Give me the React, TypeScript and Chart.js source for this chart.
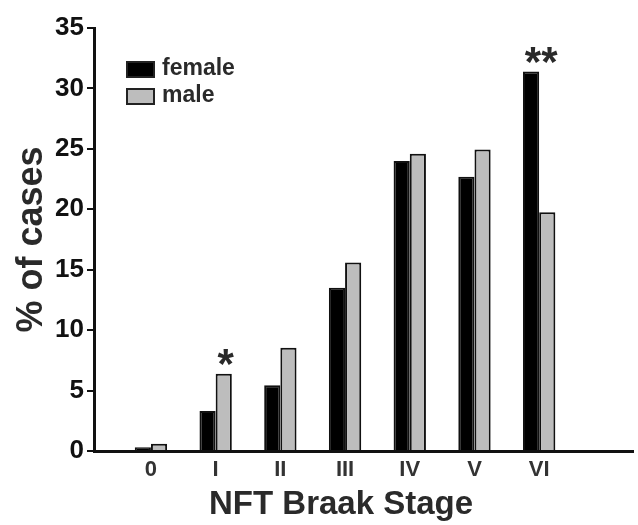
import React, { useEffect, useRef } from 'react';
import { Chart, registerables } from 'chart.js';

Chart.register(...registerables);

const stageLabels = ['0', 'I', 'II', 'III', 'IV', 'V', 'VI'];
const femaleValues = [0.3, 3.3, 5.45, 13.5, 24.0, 22.7, 31.4];
const maleValues = [0.6, 6.4, 8.55, 15.6, 24.6, 24.95, 19.75];
const significance = ['', '*', '', '', '', '', '**'];
const significanceAnchor = ['', 'male', '', '', '', '', 'group'];
const yTickValues = [0, 5, 10, 15, 20, 25, 30, 35];
const seriesNames = ['female', 'male'];
const xTitle = 'NFT Braak Stage';

const FONT = '"Liberation Sans", Arial, Helvetica, sans-serif';

const legendPlugin = {
  id: 'insideLegend',
  afterDraw(chart: any) {
    const ctx = chart.ctx;
    const area = chart.chartArea;
    const x0 = area.left + 32;
    const y0 = area.top + 33;
    const boxW = 29;
    const boxH = 17;
    const rowGap = 27;
    ctx.save();
    chart.data.datasets.forEach((ds: any, i: number) => {
      const y = y0 + i * rowGap;
      ctx.fillStyle = ds.backgroundColor;
      ctx.fillRect(x0, y, boxW, boxH);
      ctx.lineWidth = 2;
      ctx.strokeStyle = '#222';
      ctx.strokeRect(x0 + 1, y + 1, boxW - 2, boxH - 2);
      ctx.fillStyle = '#2a2a2a';
      ctx.font = `bold 23px ${FONT}`;
      ctx.textBaseline = 'middle';
      ctx.textAlign = 'left';
      ctx.fillText(ds.label, x0 + boxW + 7, y + boxH / 2 - 1);
    });
    ctx.restore();
  },
};

const xTitlePlugin = {
  id: 'xTitle',
  afterDraw(chart: any) {
    const ctx = chart.ctx;
    const xs = chart.scales.x;
    ctx.save();
    ctx.font = `bold 33px ${FONT}`;
    ctx.fillStyle = '#2a2a2a';
    ctx.textAlign = 'center';
    ctx.textBaseline = 'middle';
    const cx = xs.getPixelForValue((stageLabels.length - 1) / 2) - 4;
    ctx.fillText(xTitle, cx, xs.bottom - 20);
    ctx.restore();
  },
};

const sigPlugin = {
  id: 'significance',
  afterDatasetsDraw(chart: any) {
    const ctx = chart.ctx;
    const xs = chart.scales.x;
    const ys = chart.scales.y;
    ctx.save();
    ctx.font = `bold 42px ${FONT}`;
    ctx.fillStyle = '#2a2a2a';
    ctx.textAlign = 'center';
    ctx.textBaseline = 'alphabetic';
    significance.forEach((label, i) => {
      if (!label) return;
      const top = Math.max(femaleValues[i], maleValues[i]);
      let x = xs.getPixelForValue(i);
      if (significanceAnchor[i] === 'male') x = chart.getDatasetMeta(1).data[i].x;
      if (significanceAnchor[i] === 'female') x = chart.getDatasetMeta(0).data[i].x;
      const cy = ys.getPixelForValue(top) - 17;
      const m = ctx.measureText(label);
      const asc = m.actualBoundingBoxAscent;
      const desc = m.actualBoundingBoxDescent;
      ctx.fillText(label, x + 2, cy + (asc - desc) / 2);
    });
    ctx.restore();
  },
};

export default function App() {
  const ref = useRef<HTMLCanvasElement | null>(null);
  useEffect(() => {
    if (!ref.current) return;
    const chart = new Chart(ref.current, {
      type: 'bar',
      data: {
        datasets: [
          {
            label: seriesNames[0],
            data: stageLabels.map((_, i) => ({ x: i, y: femaleValues[i] })),
            backgroundColor: '#000000',
            borderColor: '#111111',
            borderWidth: 2,
            categoryPercentage: 0.5,
            barPercentage: 1,
          },
          {
            label: seriesNames[1],
            data: stageLabels.map((_, i) => ({ x: i, y: maleValues[i] })),
            backgroundColor: '#bdbdbd',
            borderColor: '#111111',
            borderWidth: 2,
            categoryPercentage: 0.5,
            barPercentage: 1,
          },
        ],
      },
      options: {
        responsive: false,
        animation: false,
        layout: { padding: { top: 28, right: 5, left: 0, bottom: 0 } },
        plugins: { legend: { display: false }, tooltip: { enabled: false } },
        scales: {
          x: {
            type: 'linear',
            offset: false,
            min: -0.88,
            max: 7.45,
            afterBuildTicks: (scale: any) => {
              scale.ticks = stageLabels.map((_, i) => ({ value: i }));
            },
            afterFit: (scale: any) => {
              scale.height = 74;
            },
            grid: { display: false, drawTicks: false, offset: false },
            border: { display: true, color: '#111', width: 3 },
            ticks: {
              autoSkip: false,
              maxRotation: 0,
              padding: 6,
              color: '#333',
              font: { family: FONT, size: 22, weight: 'bold' },
              callback: (v: any) => stageLabels[v] ?? '',
            },
            title: { display: false },
          },
          y: {
            min: 0,
            max: 35,
            afterBuildTicks: (scale: any) => {
              scale.ticks = yTickValues.map((v) => ({ value: v }));
            },
            afterFit: (scale: any) => {
              scale.width = 94;
            },
            grid: { display: true, drawOnChartArea: false, drawTicks: true, tickLength: 7, color: '#111', lineWidth: 2 },
            border: { display: true, color: '#111', width: 3 },
            ticks: {
              padding: 3,
              color: '#111',
              font: { family: FONT, size: 26, weight: 'bold' },
            },
            title: {
              display: true,
              text: '% of cases',
              color: '#2a2a2a',
              font: { family: FONT, size: 36, weight: 'bold', lineHeight: 1 },
              padding: { top: 14, bottom: 0 },
            },
          },
        },
      },
      plugins: [legendPlugin, sigPlugin, xTitlePlugin],
    } as any);
    return () => chart.destroy();
  }, []);
  return (
    <div style={{ position: 'fixed', left: 0, top: 0, width: 638, height: 525, background: '#fff' }}>
      <canvas ref={ref} width={638} height={525} style={{ display: 'block' }} />
    </div>
  );
}
